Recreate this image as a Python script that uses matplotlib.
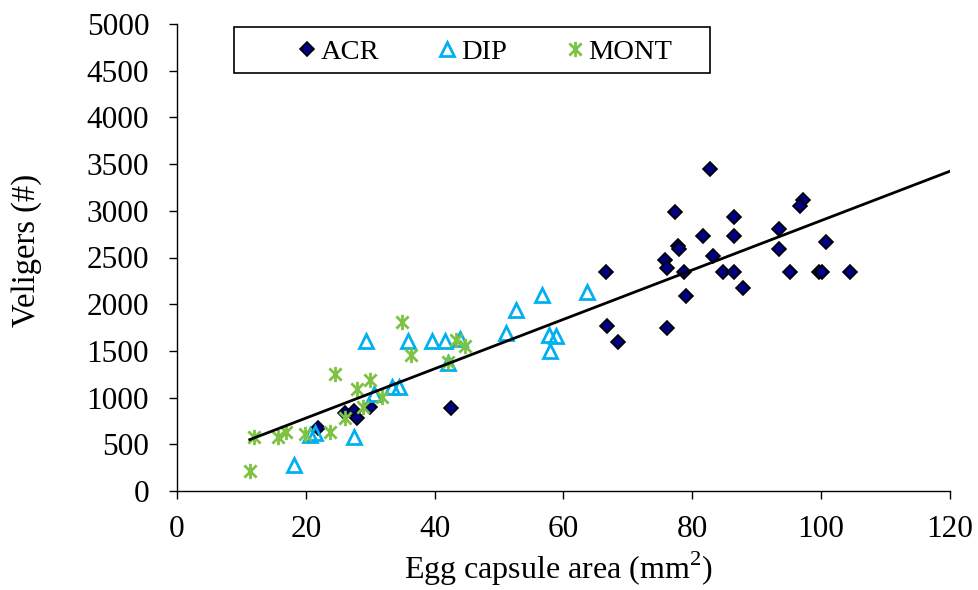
import numpy as np
import matplotlib.pyplot as plt
from matplotlib.path import Path

plt.rcParams['font.family'] = ['Liberation Serif', 'DejaVu Serif']
plt.rcParams['mathtext.fontset'] = 'custom'
plt.rcParams['mathtext.rm'] = 'Liberation Serif'

# Egg capsule area (mm2) and veliger counts
acr_x = [82.8, 77.3, 86.4, 97.2, 96.7, 81.6, 86.4, 93.5, 77.7, 78.0, 93.5, 100.8,
         83.2, 75.8, 76.0, 66.6, 78.7, 84.7, 86.5, 95.2, 99.6, 100.1, 104.4, 87.9,
         79.0, 66.7, 76.0, 68.4, 42.5, 21.9, 26.1, 27.4, 27.9, 30.0]
acr_y = [3450, 2984, 2935, 3120, 3056, 2734, 2734, 2806, 2620, 2592, 2595, 2663,
         2513, 2477, 2388, 2348, 2348, 2348, 2348, 2348, 2348, 2348, 2348, 2173,
         2091, 1762, 1740, 1590, 893, 679, 840, 858, 779, 904]

dip_x = [18.1, 20.7, 21.4, 27.5, 29.3, 30.6, 33.3, 34.5, 35.8, 39.6, 41.6, 42.1,
         43.9, 51.0, 52.7, 56.6, 57.7, 58.9, 57.9, 63.6]
dip_y = [279, 600, 618, 582, 1601, 1040, 1112, 1112, 1601, 1601, 1601, 1369,
         1630, 1691, 1933, 2100, 1673, 1655, 1494, 2127]

mont_x = [35.0, 36.3, 43.3, 44.7, 42.1, 24.6, 30.0, 28.0, 31.9, 28.8, 26.1, 23.7,
          19.9, 16.9, 15.7, 12.0, 11.3]
mont_y = [1805, 1458, 1612, 1555, 1386, 1254, 1190, 1090, 1011, 904, 779, 636,
          611, 636, 576, 576, 218]

# Excel-style star marker: an x with a vertical bar
star = Path([(-1, -1), (1, 1), (-1, 1), (1, -1), (0, -1.25), (0, 1.25)],
            [Path.MOVETO, Path.LINETO, Path.MOVETO, Path.LINETO, Path.MOVETO, Path.LINETO])

W, H = 979, 590
fig = plt.figure(figsize=(W / 100, H / 100), dpi=100)
ax = fig.add_axes([177 / W, 1 - 491 / H, 773 / W, 467 / H])

ax.plot(acr_x, acr_y, ls='none', marker='D', ms=7, mfc='#000080', mec='black',
        mew=1.2, label='ACR', zorder=3)
ax.plot(dip_x, dip_y, ls='none', marker='^', ms=9.5, mfc='none', mec='#00B0F0',
        mew=2, label='DIP', zorder=3)
ax.plot(mont_x, mont_y, ls='none', marker=star, ms=11, mfc='none', mec='#7DC242',
        mew=2, label='MONT', zorder=3)

# linear trend over all data
all_x = np.array(acr_x + dip_x + mont_x)
all_y = np.array(acr_y + dip_y + mont_y)
slope, icpt = np.polyfit(all_x, all_y, 1)
tx = np.array([all_x.min(), 120])
ax.plot(tx, slope * tx + icpt, color='black', lw=2, zorder=4)

ax.set_xlim(0, 120)
ax.set_ylim(0, 5000)
ax.set_xticks(np.arange(0, 121, 20))
ax.set_yticks(np.arange(0, 5001, 500))
for s in ['top', 'right']:
    ax.spines[s].set_visible(False)
for s in ['left', 'bottom']:
    ax.spines[s].set_linewidth(1.0)
ax.tick_params(direction='out', length=6, width=1.0, labelsize=22.5)
ax.tick_params(axis='x', pad=11)
ax.tick_params(axis='y', pad=14)

ax.set_xlabel('Egg capsule area (mm$^{2}$)', fontsize=23)
ax.set_ylabel('Veligers (#)', fontsize=23.5)
ax.xaxis.label.set_verticalalignment('baseline')
ax.yaxis.label.set_verticalalignment('baseline')
ax.xaxis.set_label_coords(0.493, (491 - 579) / 467)
ax.yaxis.set_label_coords((35 - 177) / 773, 0.516)

# legend box drawn separately, entries placed inside it
leg = ax.legend(ncol=3, loc='center left', bbox_to_anchor=(300 / W, 1 - 52 / H),
                bbox_transform=fig.transFigure, fontsize=20.5, frameon=False,
                handlelength=0.5, handletextpad=0.22, columnspacing=2.15,
                borderpad=0, borderaxespad=0)
fig.add_artist(plt.Rectangle((234 / W, 1 - 73 / H), 476 / W, 46 / H,
                             transform=fig.transFigure, fill=False,
                             ec='black', lw=1.2))

fig.savefig('out.png', dpi=100)
